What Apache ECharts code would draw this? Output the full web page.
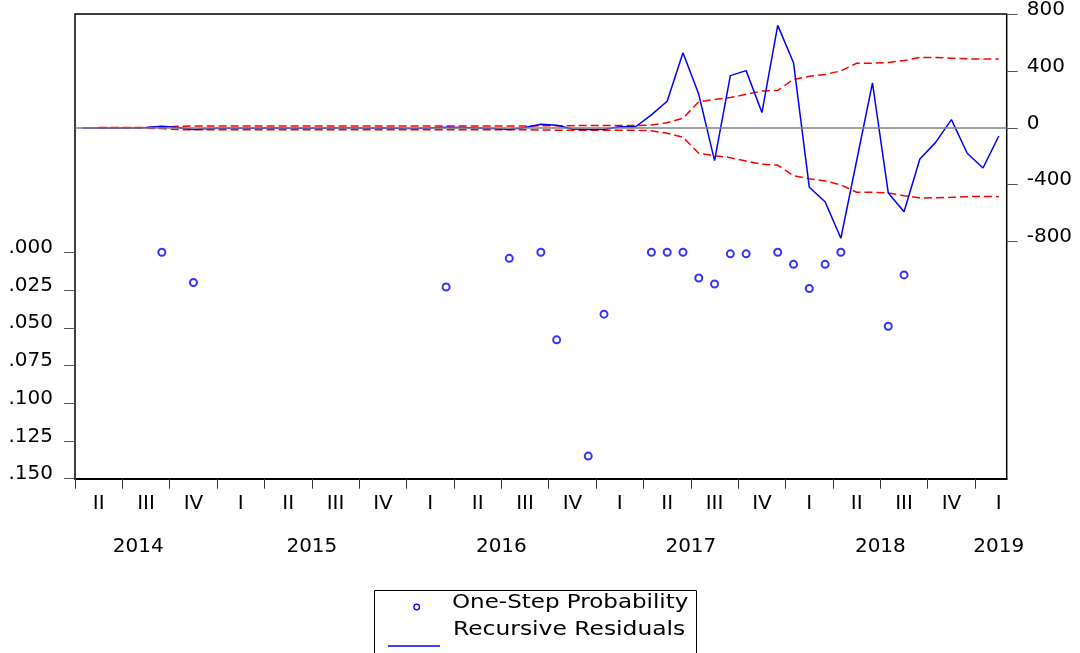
<!DOCTYPE html>
<html><head><meta charset="utf-8">
<script src="https://cdn.jsdelivr.net/npm/echarts@6/dist/echarts.min.js"></script>
<style>html,body{margin:0;padding:0;background:#fff}#c{width:1080px;height:653px}</style>
</head><body><div id="c"></div>
<script>
// ---- data ----
const months = [
 '2014M04','2014M05','2014M06','2014M07','2014M08','2014M09','2014M10','2014M11','2014M12',
 '2015M01','2015M02','2015M03','2015M04','2015M05','2015M06','2015M07','2015M08','2015M09','2015M10','2015M11','2015M12',
 '2016M01','2016M02','2016M03','2016M04','2016M05','2016M06','2016M07','2016M08','2016M09','2016M10','2016M11','2016M12',
 '2017M01','2017M02','2017M03','2017M04','2017M05','2017M06','2017M07','2017M08','2017M09','2017M10','2017M11','2017M12',
 '2018M01','2018M02','2018M03','2018M04','2018M05','2018M06','2018M07','2018M08','2018M09','2018M10','2018M11','2018M12',
 '2019M01','2019M02'];

const residuals = [
 0, 0, 0, 0, 3, 12, 2, -12, -4,
 -2, -2, -2, -1, -2, -2, -2, -1, -1, -2, -1, -2,
 -4, -1, 5, 3, -1, -5, -12, 3, 26, 18, -8, -12,
 -10, 8, 8, 92, 188, 530, 237, -231, 369, 404, 108, 723,
 460, -419, -521, -778, -230, 317, -459, -591, -219, -102, 58, -179,
 -283, -57];

const upperBand = [
 null, 2, 2, 3, 3, 5, 12, 13, 13,
 13, 13, 13, 13, 13, 13, 13, 13, 13, 13, 13, 13,
 13, 13, 13, 13, 13, 13, 13, 13, 15, 16, 16, 17,
 17, 17, 17, 20, 37, 68, 185, 200, 214, 237, 260, 265,
 342, 364, 377, 402, 456, 456, 462, 475, 497, 497, 492, 487,
 486, 486];

const lowerBand = [
 null, -2, -2, -3, -3, -5, -12, -13, -13,
 -13, -13, -13, -13, -13, -13, -13, -13, -13, -13, -13, -13,
 -13, -13, -13, -13, -13, -13, -13, -13, -15, -16, -16, -17,
 -17, -17, -17, -20, -38, -66, -179, -196, -210, -234, -257, -262,
 -337, -358, -374, -402, -454, -454, -459, -478, -494, -493, -490, -485,
 -483, -485];

const probMonths = ['2014M09','2014M11','2016M03','2016M07','2016M09','2016M10','2016M12',
 '2017M01','2017M04','2017M05','2017M06','2017M07','2017M08','2017M09','2017M10','2017M12',
 '2018M01','2018M02','2018M03','2018M04','2018M07','2018M08'];
const probValues = [0.000, 0.020, 0.023, 0.004, 0.000, 0.058, 0.135,
 0.041, 0.000, 0.000, 0.000, 0.017, 0.021, 0.001, 0.001, 0.000,
 0.008, 0.024, 0.008, 0.000, 0.049, 0.015];

const quarterNames = ['I','II','III','IV'];
const yearLabels = ['2014','2015','2016','2017','2018','2019'];
const yearLabelAt = [4, 15, 27, 39, 51, 58.5];   // months from 2014M04 start
const legendNames = ['One-Step Probability','Recursive Residuals'];

// ---- chart ----
const FONT = 'DejaVu Sans';
const L = 75, W = 931.7, T = 14, H = 464.7;
const chart = echarts.init(document.getElementById('c'), null, {renderer:'canvas'});
const txt = {fontFamily: FONT, fontSize: 20, color: '#000'};
const yLab = {verticalAlign: 'bottom', lineHeight: 9};

chart.setOption({
  animation: false,
  backgroundColor: '#fff',
  grid: [
    {left: L, top: T, width: W, height: H, show: true, borderColor: '#000', borderWidth: 1.5},
    {left: L, top: 14.5, width: W, height: 226.8},
    {left: L, top: 252.3, width: W, height: 226.4},
    {left: L, top: T, width: W * 57 / 59, height: H}
  ],
  xAxis: [
    {gridIndex: 0, type: 'category', data: months, boundaryGap: true,
     axisLine: {onZero: false, lineStyle: {color: '#000', width: 2}},
     axisTick: {interval: 0, length: 6, lineStyle: {color: '#333', width: 1}},
     axisLabel: Object.assign({interval: (i) => i % 3 === 1, margin: 15,
       formatter: (v) => quarterNames[Math.ceil(parseInt(v.slice(5), 10) / 3) - 1]}, txt),
     splitLine: {show: false}},
    {gridIndex: 1, type: 'category', data: months, boundaryGap: true, show: false},
    {gridIndex: 2, type: 'category', data: months, boundaryGap: true, show: false},
    {gridIndex: 0, type: 'value', min: 0, max: 59, interval: 0.5, position: 'bottom',
     axisLine: {show: false, onZero: false}, axisTick: {show: false}, splitLine: {show: false},
     axisLabel: Object.assign({margin: 58, showMinLabel: true, showMaxLabel: true,
       formatter: (v) => { const k = yearLabelAt.indexOf(v); return k >= 0 ? yearLabels[k] : ''; }}, txt)},
    {gridIndex: 3, type: 'value', min: 0, max: 57, interval: 3, position: 'bottom',
     axisLine: {show: false, onZero: false}, splitLine: {show: false}, axisLabel: {show: false},
     axisTick: {show: true, length: 10, lineStyle: {color: '#333', width: 1}}}
  ],
  yAxis: [
    {gridIndex: 0, type: 'value', min: 0, max: 1, show: false},
    {gridIndex: 1, type: 'value', position: 'right', min: -800, max: 800, interval: 400,
     axisLine: {show: false}, splitLine: {show: false},
     axisTick: {show: true, length: 11, lineStyle: {color: '#555'}},
     axisLabel: Object.assign({margin: 20}, txt, yLab)},
    {gridIndex: 2, type: 'value', position: 'left', inverse: true, min: 0, max: 0.15, interval: 0.025,
     axisLine: {show: false}, splitLine: {show: false},
     axisTick: {show: true, length: 11, lineStyle: {color: '#555'}},
     axisLabel: Object.assign({margin: 22,
       formatter: (v) => v.toFixed(3).replace(/^0/, '')}, txt, yLab)},
    {gridIndex: 3, type: 'value', min: 0, max: 1, show: false}
  ],
  series: [
    {name: '+2 S.E.', type: 'line', xAxisIndex: 1, yAxisIndex: 1, data: upperBand,
     symbol: 'none', clip: false, z: 2, silent: true,
     lineStyle: {color: '#ff0000', width: 1.5, type: [8, 4]},
     markLine: {silent: true, symbol: 'none', label: {show: false},
       lineStyle: {color: '#808080', width: 1.6, type: 'solid'},
       data: [{yAxis: 0}]}},
    {name: '-2 S.E.', type: 'line', xAxisIndex: 1, yAxisIndex: 1, data: lowerBand,
     symbol: 'none', clip: false, z: 2, silent: true,
     lineStyle: {color: '#ff0000', width: 1.5, type: [8, 4]}},
    {name: legendNames[1], type: 'line', xAxisIndex: 1, yAxisIndex: 1, data: residuals,
     symbol: 'none', clip: false, z: 3,
     lineStyle: {color: '#0000ff', width: 1.5}},
    {name: legendNames[0], type: 'scatter', xAxisIndex: 2, yAxisIndex: 2,
     data: probMonths.map((m, k) => [m, probValues[k]]),
     symbol: 'emptyCircle', symbolSize: 7, clip: false, z: 4,
     itemStyle: {color: '#0000ff', borderColor: '#0000ff', borderWidth: 1.4}}
  ],
  graphic: [
    {type: 'rect', shape: {x: 374.5, y: 590.5, width: 322, height: 80},
     style: {fill: '#fff', stroke: '#000', lineWidth: 1}},
    {type: 'circle', shape: {cx: 416.7, cy: 607, r: 2.8},
     style: {fill: '#fff', stroke: '#0000ff', lineWidth: 1.3}},
    {type: 'text', x: 452, y: 603, scaleX: 1.15,
     style: {text: legendNames[0], font: '20px "DejaVu Sans"', fill: '#000', verticalAlign: 'middle'}},
    {type: 'line', shape: {x1: 388, y1: 646, x2: 440, y2: 646},
     style: {stroke: '#0000ff', lineWidth: 1.3}},
    {type: 'text', x: 453, y: 630, scaleX: 1.17,
     style: {text: legendNames[1], font: '20px "DejaVu Sans"', fill: '#000', verticalAlign: 'middle'}}
  ]
});
</script></body></html>
